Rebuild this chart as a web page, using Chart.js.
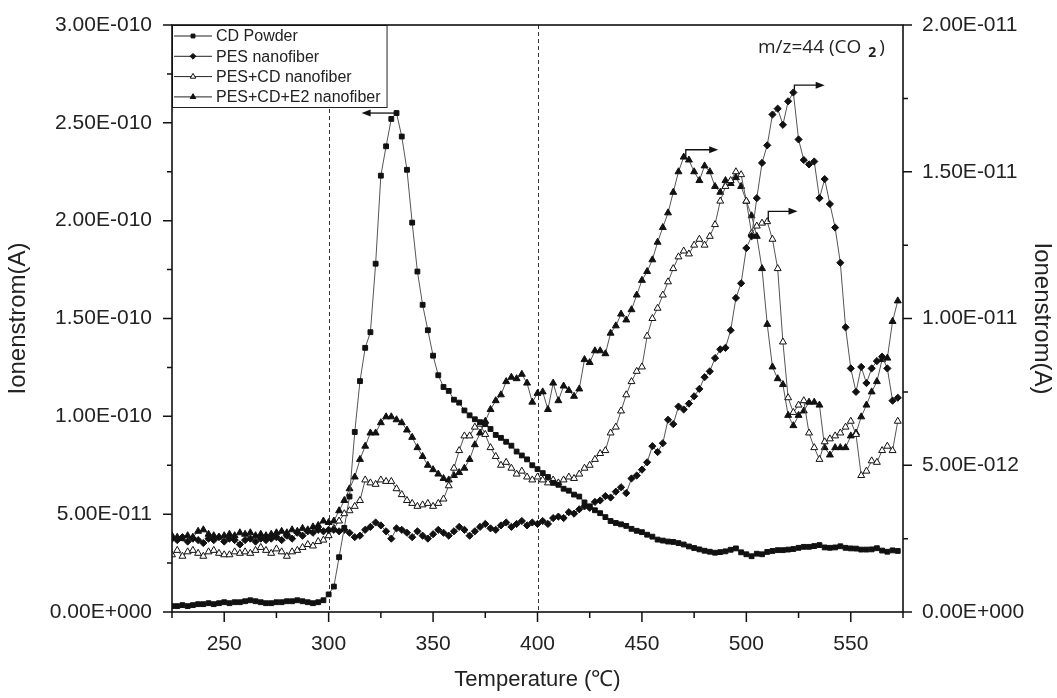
<!DOCTYPE html>
<html>
<head>
<meta charset="utf-8">
<script src="https://cdn.jsdelivr.net/npm/chart.js@4.4.0/dist/chart.umd.min.js"></script>
<style>
html, body { margin: 0; padding: 0; background: #fff; }
#wrap { width: 1057px; height: 698px; position: relative; }
</style>
</head>
<body>
<div id="wrap"><canvas id="chart"></canvas></div>
<script>
// temperature (deg C), one reading every 2.5 degrees
const temps = [
  225,227.5,230,232.5,235,237.5,240,242.5,245,247.5,250,252.5,255,257.5,260,262.5,265,267.5,270,272.5,
  275,277.5,280,282.5,285,287.5,290,292.5,295,297.5,300,302.5,305,307.5,310,312.5,315,317.5,320,322.5,
  325,327.5,330,332.5,335,337.5,340,342.5,345,347.5,350,352.5,355,357.5,360,362.5,365,367.5,370,372.5,
  375,377.5,380,382.5,385,387.5,390,392.5,395,397.5,400,402.5,405,407.5,410,412.5,415,417.5,420,422.5,
  425,427.5,430,432.5,435,437.5,440,442.5,445,447.5,450,452.5,455,457.5,460,462.5,465,467.5,470,472.5,
  475,477.5,480,482.5,485,487.5,490,492.5,495,497.5,500,502.5,505,507.5,510,512.5,515,517.5,520,522.5,
  525,527.5,530,532.5,535,537.5,540,542.5,545,547.5,550,552.5,555,557.5,560,562.5,565,567.5,570,572.5
];

// CD Powder, left axis, in 1E-011 A
const cdPowder = [
  0.3,0.3,0.35,0.3,0.35,0.4,0.4,0.45,0.4,0.45,0.5,0.45,0.5,0.5,0.55,0.6,0.55,0.5,0.45,0.45,
  0.5,0.5,0.55,0.55,0.6,0.55,0.5,0.45,0.5,0.6,0.9,1.3,2.8,4.3,5.9,9.2,11.8,13.5,14.3,17.8,
  22.3,23.8,25.2,25.5,24.3,22.6,19.9,17.4,15.7,14.4,13.1,12.1,11.5,11.3,10.85,10.7,10.3,10.05,9.85,9.7,
  9.6,9.35,9.05,8.9,8.7,8.5,8.2,8.0,7.8,7.5,7.3,7.1,6.9,6.6,6.5,6.3,6.2,6.0,5.9,5.6,
  5.4,5.2,5.05,4.85,4.65,4.55,4.48,4.4,4.25,4.15,4.08,3.95,3.85,3.7,3.65,3.6,3.58,3.52,3.45,3.35,
  3.27,3.2,3.13,3.08,3.03,3.06,3.1,3.18,3.25,3.05,2.95,2.85,2.98,2.95,3.07,3.12,3.16,3.16,3.19,3.22,
  3.28,3.33,3.33,3.37,3.42,3.3,3.28,3.3,3.36,3.28,3.25,3.24,3.19,3.19,3.2,3.26,3.14,3.08,3.15,3.12
];

// the other three use the right axis, in 1E-012 A
const pesFiber = [
  2.5,2.45,2.55,2.4,2.5,2.45,2.35,2.5,2.45,2.55,2.4,2.5,2.45,2.3,2.45,2.5,2.4,2.5,2.45,2.5,
  2.55,2.45,2.6,2.5,2.7,2.6,2.75,2.7,2.8,2.75,2.8,2.8,2.75,2.8,2.7,2.55,2.6,2.8,2.9,3.05,
  2.95,2.75,2.5,2.85,2.8,2.7,2.55,2.75,2.6,2.5,2.65,2.8,2.7,2.6,2.75,2.9,2.8,2.6,2.75,2.9,
  3.0,2.85,2.8,2.95,3.05,2.9,3.0,3.1,2.95,3.05,3.0,3.1,3.0,3.2,3.25,3.2,3.4,3.35,3.5,3.6,
  3.55,3.75,3.8,3.95,3.9,4.1,4.25,4.05,4.55,4.65,4.85,5.1,5.65,5.45,5.75,6.55,6.4,7.0,6.9,7.1,
  7.35,7.6,8.0,8.2,8.65,8.95,9.0,9.6,10.7,11.2,12.4,12.8,14.1,15.3,15.9,16.95,17.15,16.6,17.4,17.7,
  16.1,15.4,15.25,15.35,14.1,14.75,13.9,13.1,11.9,9.7,8.3,7.5,8.35,7.8,8.3,8.55,8.7,8.3,7.2,7.3
];

const pesCdFiber = [
  1.95,2.1,1.9,2.05,2.1,2.0,1.9,2.05,2.1,2.0,1.95,1.95,2.05,2.0,2.05,2.0,2.1,2.2,2.1,2.0,
  2.15,2.05,1.9,2.05,2.1,2.2,2.3,2.25,2.4,2.45,2.6,2.85,3.1,3.35,3.45,3.6,3.8,4.5,4.4,4.35,
  4.5,4.45,4.45,4.2,4.0,3.8,3.7,3.6,3.65,3.7,3.6,3.7,3.85,4.3,4.9,5.5,6.0,6.0,6.3,6.4,
  6.05,5.6,5.3,5.0,5.1,4.9,4.7,4.8,4.6,4.5,4.6,4.5,4.4,4.5,4.4,4.5,4.6,4.55,4.7,4.9,
  5.0,5.2,5.4,5.5,6.1,6.3,6.85,7.4,7.85,8.2,8.35,9.4,10.0,10.35,10.8,11.25,11.7,12.1,12.3,12.2,
  12.5,12.7,12.5,12.8,13.2,14.0,14.5,14.7,15.0,14.9,14.0,12.9,13.15,13.25,13.3,12.7,11.7,9.2,7.3,6.8,
  7.05,7.2,6.1,5.6,5.2,5.8,5.9,6.0,6.1,6.3,6.5,6.05,4.65,4.8,5.15,5.1,5.5,5.65,5.5,6.5
];

const pesCdE2Fiber = [
  2.6,2.55,2.5,2.6,2.55,2.75,2.8,2.65,2.6,2.55,2.6,2.65,2.6,2.7,2.65,2.7,2.6,2.65,2.6,2.65,
  2.7,2.75,2.7,2.8,2.75,2.85,2.8,2.9,2.95,3.1,3.05,3.1,3.45,3.8,4.2,4.6,5.2,5.65,6.1,6.1,
  6.45,6.65,6.65,6.55,6.45,6.2,5.95,5.6,5.3,5.0,4.85,4.7,4.55,4.5,4.65,4.75,4.9,5.2,5.7,6.1,
  6.5,6.9,7.2,7.4,7.85,8.0,7.95,8.1,7.8,7.15,7.45,7.5,6.9,7.8,7.2,7.7,7.55,7.35,7.6,8.6,
  8.5,8.9,8.9,8.8,9.5,9.75,10.15,9.95,10.3,10.8,11.3,11.6,12.0,12.6,13.1,13.6,14.3,15.0,15.5,15.4,
  15.0,14.7,15.2,15.0,14.5,14.3,14.7,14.6,14.8,14.5,14.0,13.5,12.8,11.7,9.8,8.35,7.95,7.75,6.7,6.35,
  6.7,6.85,7.15,7.15,7.05,5.6,5.35,5.6,5.6,5.6,6.0,6.1,6.65,7.05,7.5,7.85,8.6,8.65,9.9,10.6
];

const seriesNames = ['CD Powder', 'PES nanofiber', 'PES+CD nanofiber', 'PES+CD+E2 nanofiber'];

// arrows showing which axis each peak belongs to: [stem temp, from value, to value, end temp, axis]
const arrows = [
  [332.5, 25.5, 25.5, 315.8, 'y'],
  [471, 15.5, 15.75, 486.5, 'y2'],
  [510.5, 13.3, 13.65, 524.5, 'y2'],
  [523, 17.7, 17.95, 537.5, 'y2']
];
const markerLines = [300, 400];

const fam = '"Liberation Sans", Arial, sans-serif';

function sci(v) {
  if (Math.abs(v) < 1e-30) return '0.00E+000';
  let parts = v.toExponential(2).split('e');
  let ex = parseInt(parts[1], 10);
  return parts[0] + 'E' + (ex < 0 ? '-' : '+') + String(Math.abs(ex)).padStart(3, '0');
}

function pts(arr) {
  return temps.map((t, i) => ({ x: t, y: arr[i] }));
}

function ds(label, arr, axis, style, radius, fill) {
  return {
    label: label,
    data: pts(arr),
    yAxisID: axis,
    borderColor: '#555',
    borderWidth: 1,
    pointStyle: style,
    pointRadius: radius,
    pointBackgroundColor: fill,
    pointBorderColor: '#111',
    pointBorderWidth: 1,
    tension: 0
  };
}

// keep the plot box where the reference has it
function fixY(w) {
  return s => { s.width = w; s.paddingTop = 0; s.paddingBottom = 0; };
}

// frame, tick marks, dashed lines, arrows, legend box, m/z label
const extras = {
  id: 'extras',
  beforeDatasetsDraw(chart) {
    const ctx = chart.ctx, a = chart.chartArea, x = chart.scales.x;
    ctx.save();
    ctx.strokeStyle = '#333';
    ctx.lineWidth = 1;
    ctx.setLineDash([4, 3]);
    markerLines.forEach(t => {
      const px = Math.round(x.getPixelForValue(t)) + 0.5;
      ctx.beginPath();
      ctx.moveTo(px, a.top);
      ctx.lineTo(px, a.bottom);
      ctx.stroke();
    });
    ctx.restore();
  },
  afterDraw(chart) {
    const ctx = chart.ctx, a = chart.chartArea;
    const sx = chart.scales.x, sy = chart.scales.y, sy2 = chart.scales.y2;
    ctx.save();

    // legend box in the upper left corner
    ctx.font = '16px ' + fam;
    let maxW = 0;
    chart.data.datasets.forEach(d => { maxW = Math.max(maxW, ctx.measureText(d.label).width); });
    const lx = a.left, ly = a.top;
    const textX = lx + 44;
    const bw = textX - lx + maxW + 6, bh = 82;
    ctx.fillStyle = '#fff';
    ctx.fillRect(lx, ly, bw, bh);
    ctx.lineWidth = 1;
    ctx.strokeStyle = '#222';
    ctx.strokeRect(lx + 0.5, ly + 0.5, bw, bh);
    chart.data.datasets.forEach((d, i) => {
      const yy = ly + 11 + i * 20.3;
      ctx.strokeStyle = '#222';
      ctx.lineWidth = 1;
      ctx.beginPath();
      ctx.moveTo(lx + 2, yy);
      ctx.lineTo(lx + 40, yy);
      ctx.stroke();
      ctx.fillStyle = d.pointBackgroundColor;
      ctx.strokeStyle = '#111';
      Chart.helpers.drawPoint(ctx, { pointStyle: d.pointStyle, radius: d.pointRadius * 0.8, rotation: 0, borderWidth: 1 }, lx + 21, yy);
      ctx.fillStyle = '#222';
      ctx.textBaseline = 'middle';
      ctx.textAlign = 'left';
      ctx.fillText(d.label, textX, yy + 1);
    });

    ctx.strokeStyle = '#111';
    ctx.lineWidth = 1.6;
    ctx.strokeRect(a.left, a.top, a.right - a.left, a.bottom - a.top);

    // tick marks
    ctx.lineWidth = 1.5;
    ctx.beginPath();
    sx.ticks.forEach(t => {
      const px = sx.getPixelForValue(t.value);
      const len = t.value % 50 === 0 ? 10 : 6;
      ctx.moveTo(px, a.bottom);
      ctx.lineTo(px, a.bottom + len);
    });
    sy.ticks.forEach(t => {
      const py = sy.getPixelForValue(t.value);
      const len = t.value % 5 === 0 ? 9 : 5;
      ctx.moveTo(a.left, py);
      ctx.lineTo(a.left - len, py);
    });
    sy2.ticks.forEach(t => {
      const py = sy2.getPixelForValue(t.value);
      const len = t.value % 5 === 0 ? 9 : 5;
      ctx.moveTo(a.right, py);
      ctx.lineTo(a.right + len, py);
    });
    ctx.stroke();

    // arrows
    ctx.lineWidth = 1.3;
    ctx.fillStyle = '#111';
    arrows.forEach(ar => {
      const sc = chart.scales[ar[4]];
      const x0 = sx.getPixelForValue(ar[0]);
      const y0 = sc.getPixelForValue(ar[1]);
      const y1 = sc.getPixelForValue(ar[2]);
      const x1 = sx.getPixelForValue(ar[3]);
      const dir = x1 > x0 ? 1 : -1;
      ctx.beginPath();
      ctx.moveTo(x0, y0);
      ctx.lineTo(x0, y1);
      ctx.lineTo(x1 - dir * 7, y1);
      ctx.stroke();
      ctx.beginPath();
      ctx.moveTo(x1, y1);
      ctx.lineTo(x1 - dir * 9, y1 - 3.5);
      ctx.lineTo(x1 - dir * 9, y1 + 3.5);
      ctx.closePath();
      ctx.fill();
    });

    // m/z label with subscript
    ctx.fillStyle = '#222';
    ctx.textBaseline = 'alphabetic';
    const mzFont = '"Open Sans", ' + fam;
    ctx.font = '19px ' + mzFont;
    let tx = 758, ty = 53;
    const s1 = 'm/z=44 (CO';
    ctx.fillText(s1, tx, ty);
    tx += ctx.measureText(s1).width + 7;
    ctx.font = 'bold 14px ' + mzFont;
    ctx.fillText('2', tx, ty + 4);
    tx += ctx.measureText('2').width + 3;
    ctx.font = '19px ' + mzFont;
    ctx.fillText(')', tx, ty);
    ctx.restore();
  }
};

new Chart(document.getElementById('chart'), {
  type: 'line',
  data: {
    datasets: [
      ds(seriesNames[0], cdPowder, 'y', 'rect', 3.4, '#111'),
      ds(seriesNames[1], pesFiber, 'y2', 'rectRot', 3.6, '#111'),
      ds(seriesNames[2], pesCdFiber, 'y2', 'triangle', 4, '#fff'),
      ds(seriesNames[3], pesCdE2Fiber, 'y2', 'triangle', 4, '#111')
    ]
  },
  options: {
    responsive: true,
    maintainAspectRatio: false,
    animation: false,
    layout: { padding: { top: 25, left: 0, right: 0, bottom: 0 } },
    plugins: {
      legend: { display: false },
      tooltip: { enabled: false }
    },
    scales: {
      x: {
        type: 'linear',
        min: 225,
        max: 575,
        afterFit: s => { s.height = 86; s.paddingLeft = 0; s.paddingRight = 0; },
        grid: { display: false, drawTicks: false },
        border: { display: false },
        ticks: {
          stepSize: 25,
          autoSkip: false,
          maxRotation: 0,
          padding: 20,
          color: '#222',
          font: { family: fam, size: 21 },
          callback: v => (v % 50 === 0 ? String(v) : '')
        },
        title: {
          display: true,
          text: 'Temperature (\u2103)',
          color: '#222',
          font: { family: fam, size: 22 },
          padding: { top: 0, bottom: 5 }
        }
      },
      y: {
        position: 'left',
        min: 0,
        max: 30,
        afterFit: fixY(172),
        grid: { display: false, drawTicks: false },
        border: { display: false },
        ticks: {
          stepSize: 2.5,
          autoSkip: false,
          padding: 20,
          color: '#222',
          font: { family: fam, size: 21 },
          callback: v => (Math.abs(v % 5) < 1e-9 ? sci(v * 1e-11) : '')
        },
        title: {
          display: true,
          text: 'Ionenstrom(A)',
          color: '#222',
          font: { family: fam, size: 24 },
          padding: { top: 4, bottom: 0 }
        }
      },
      y2: {
        position: 'right',
        min: 0,
        max: 20,
        afterFit: fixY(154),
        grid: { display: false, drawTicks: false },
        border: { display: false },
        ticks: {
          stepSize: 2.5,
          autoSkip: false,
          padding: 19,
          color: '#222',
          font: { family: fam, size: 21 },
          callback: v => (Math.abs(v % 5) < 1e-9 ? sci(v * 1e-12) : '')
        },
        title: {
          display: true,
          text: 'Ionenstrom(A)',
          color: '#222',
          font: { family: fam, size: 24 },
          padding: { top: 1, bottom: 0 }
        }
      }
    }
  },
  plugins: [extras]
});
</script>
</body>
</html>
